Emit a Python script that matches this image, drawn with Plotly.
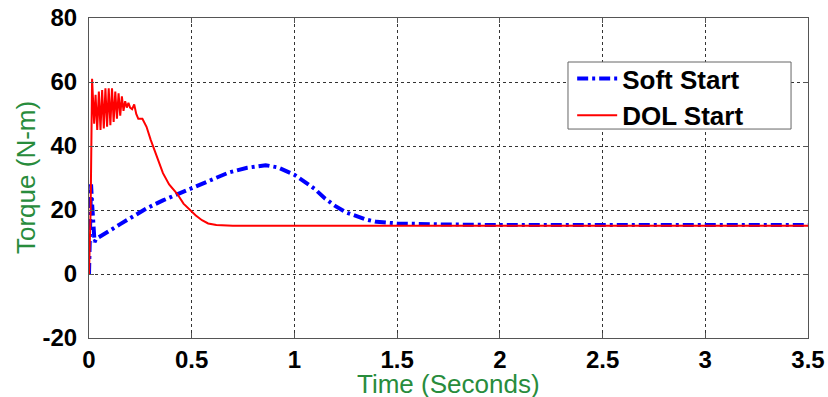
import plotly.graph_objects as go

# DOL Start torque (N-m) vs time (s)
dol_t = [0, 0.008, 0.015, 0.02, 0.025, 0.032, 0.04, 0.048, 0.056, 0.064, 0.072, 0.08,
         0.088, 0.096, 0.104, 0.112, 0.12, 0.128, 0.136, 0.144, 0.152, 0.16, 0.168,
         0.176, 0.184, 0.192, 0.2, 0.21, 0.22, 0.23, 0.24, 0.26, 0.28, 0.3, 0.33,
         0.36, 0.39, 0.43, 0.46, 0.49, 0.52, 0.55, 0.58, 0.62, 0.7, 1.0, 1.5, 2.0,
         2.5, 3.0, 3.5]
dol_v = [0, 20, 61, 55, 47, 56, 45, 57, 45, 57.5, 45.5, 58,
         46, 58, 46.5, 58, 47.5, 57, 48.5, 56.5, 49.5, 55.5, 51,
         54, 52, 53.5, 52, 51.5, 53, 50, 48.5, 48.5, 46, 42, 36.5,
         31.5, 28, 25, 22, 20, 18.3, 16.8, 15.8, 15.3, 15.1, 15.1, 15.1, 15.1,
         15.1, 15.1, 15.1]

# Soft Start torque (N-m) vs time (s)
soft_t = [0, 0.005, 0.01, 0.015, 0.02, 0.027, 0.035, 0.05, 0.07, 0.1, 0.15, 0.2,
          0.28, 0.36, 0.44, 0.52, 0.6, 0.68, 0.77, 0.86, 0.92, 1.0, 1.05, 1.1,
          1.15, 1.2, 1.25, 1.3, 1.35, 1.4, 1.5, 1.7, 2.0, 2.5, 3.0, 3.5]
soft_v = [0, 15, 28, 22, 14, 10, 11, 11.5, 12.5, 13.5, 15.5, 17.5,
          20.5, 23, 25.2, 27.6, 29.8, 31.7, 33.2, 34, 33.3, 31, 28.8, 26.5,
          23.5, 21.2, 19.3, 18, 17, 16.3, 15.8, 15.5, 15.3, 15.3, 15.3, 15.3]

x_ticks = [0, 0.5, 1, 1.5, 2, 2.5, 3, 3.5]
x_tick_text = ["0", "0.5", "1", "1.5", "2", "2.5", "3", "3.5"]
y_ticks = [-20, 0, 20, 40, 60, 80]
y_tick_text = ["-20", "0", "20", "40", "60", "80"]

FONT = "Liberation Sans, Arial, sans-serif"
GREEN = "rgb(40,140,60)"

fig = go.Figure()
fig.add_trace(go.Scatter(x=soft_t, y=soft_v, mode="lines", name="Soft Start",
                         line=dict(color="#0000FF", width=4, dash="11px,4px,3px,4px")))
fig.add_trace(go.Scatter(x=dol_t, y=dol_v, mode="lines", name="DOL Start",
                         line=dict(color="#FF0000", width=2)))

axis_common = dict(showline=True, linecolor="#555555", linewidth=1, mirror="ticks",
                   ticks="inside", ticklen=5, tickcolor="#555555",
                   showgrid=True, gridcolor="#333333", gridwidth=1, griddash="dot",
                   zeroline=False, automargin=False, ticklabeloverflow="allow",
                   tickfont=dict(family=FONT, size=24, color="black", weight="bold"))

fig.update_xaxes(range=[0, 3.5], tickvals=x_ticks, ticktext=x_tick_text, **axis_common)
fig.update_yaxes(range=[-20, 80], tickvals=y_ticks, ticktext=y_tick_text,
                 ticklabelstandoff=6, **axis_common)

fig.add_annotation(text="Time (Seconds)", xref="paper", yref="paper", x=0.5, y=0,
                   xanchor="center", yanchor="top", yshift=-30, height=27,
                   valign="middle", showarrow=False,
                   font=dict(family=FONT, size=26, color=GREEN))
fig.add_annotation(text="Torque (N-m)", xref="paper", yref="paper", x=0, y=0.5,
                   xanchor="center", yanchor="middle", xshift=-63, textangle=-90,
                   showarrow=False, font=dict(family=FONT, size=26, color=GREEN))

# legend frame
fig.add_shape(type="rect", xref="paper", yref="paper", x0=0.6662, x1=0.9764,
              y0=0.653, y1=0.8625, line=dict(color="#666666", width=1),
              fillcolor="white", layer="above")

fig.update_layout(
    width=828, height=397,
    margin=dict(l=89, r=20, t=18, b=59),
    plot_bgcolor="white", paper_bgcolor="white",
    showlegend=True,
    legend=dict(x=0.672, y=0.884, xanchor="left", yanchor="top",
                bgcolor="rgba(0,0,0,0)", borderwidth=0,
                font=dict(family=FONT, size=26, color="black", weight="bold"),
                tracegroupgap=0, itemwidth=40),
)

# remove the browser's default 8px body margin so the figure fills the window
fig.write_html("out.html", config={"displayModeBar": False},
               post_script="document.body.style.margin='0px';document.body.style.overflow='hidden';")
